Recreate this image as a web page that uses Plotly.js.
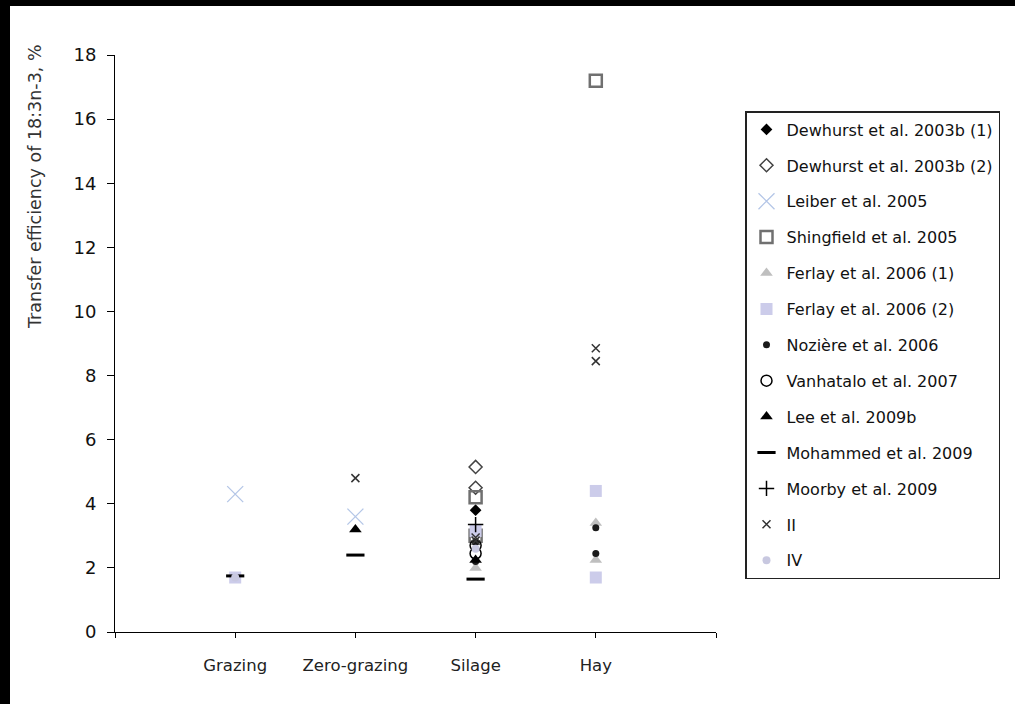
<!DOCTYPE html>
<html>
<head>
<meta charset="utf-8">
<script src="https://cdn.plot.ly/plotly-3.0.1.min.js"></script>
<style>
  html, body { margin: 0; padding: 0; background: #fff; }
  #wrap { position: relative; width: 1015px; height: 704px; overflow: hidden; }
  #chart { position: absolute; left: 0; top: 0; width: 1015px; height: 704px; }
  .barL { position: absolute; left: 0; top: 0; width: 10px; height: 704px; background: #000; }
  .barT { position: absolute; left: 0; top: 0; width: 1015px; height: 6px; background: #000; }
</style>
</head>
<body>
<div id="wrap">
  <div id="chart"></div>
  <div class="barL"></div>
  <div class="barT"></div>
</div>
<script>
// Categories on the x axis
const categories = ['Grazing', 'Zero-grazing', 'Silage', 'Hay'];

// Series: category of each point and transfer efficiency (%)
const dewhurst1Cat = ['Silage'];
const dewhurst1Val = [3.8];
const dewhurst2Cat = ['Silage', 'Silage'];
const dewhurst2Val = [5.15, 4.5];
const leiberCat = ['Grazing', 'Zero-grazing'];
const leiberVal = [4.3, 3.6];
const shingfieldCat = ['Silage', 'Silage', 'Hay'];
const shingfieldVal = [4.2, 3.0, 17.2];
const ferlay1Cat = ['Silage', 'Hay', 'Hay'];
const ferlay1Val = [2.0, 3.4, 2.25];
const ferlay2Cat = ['Grazing', 'Silage', 'Hay', 'Hay'];
const ferlay2Val = [1.7, 3.15, 4.4, 1.7];
const noziereCat = ['Silage', 'Silage', 'Hay', 'Hay'];
const noziereVal = [2.2, 2.8, 3.25, 2.45];
const vanhataloCat = ['Silage', 'Silage'];
const vanhataloVal = [2.7, 2.45];
const leeCat = ['Zero-grazing', 'Silage'];
const leeVal = [3.2, 2.25];
const mohammedCat = ['Grazing', 'Zero-grazing', 'Silage'];
const mohammedVal = [1.75, 2.4, 1.65];
const moorbyCat = ['Silage'];
const moorbyVal = [3.35];
const iiCat = ['Zero-grazing', 'Silage', 'Silage', 'Hay', 'Hay'];
const iiVal = [4.8, 2.85, 2.95, 8.85, 8.45];
const ivCat = ['Grazing', 'Silage'];
const ivVal = [1.7, 2.6];

const seriesNames = ['Dewhurst et al. 2003b (1)', 'Dewhurst et al. 2003b (2)', 'Leiber et al. 2005',
  'Shingfield et al. 2005', 'Ferlay et al. 2006 (1)', 'Ferlay et al. 2006 (2)', 'Nozière et al. 2006',
  'Vanhatalo et al. 2007', 'Lee et al. 2009b', 'Mohammed et al. 2009', 'Moorby et al. 2009', 'II', 'IV'];

const yTicks = [0, 2, 4, 6, 8, 10, 12, 14, 16, 18];

const pos = c => categories.indexOf(c) + 1;

const styles = [
  {symbol: 'diamond', size: 9, color: '#000000'},
  {symbol: 'diamond-open', size: 10, color: '#444444', line: {width: 1.5}},
  {symbol: 'x-thin-open', size: 16, color: '#b4c6e7', line: {width: 1.3}},
  {symbol: 'square-open', size: 12, color: '#707070', line: {width: 2.5}},
  {symbol: 'triangle-up', size: 11, color: '#bfbfbf'},
  {symbol: 'square', size: 12, color: '#ccccea'},
  {symbol: 'circle', size: 7, color: '#1a1a1a'},
  {symbol: 'circle-open', size: 11, color: '#000000', line: {width: 1.5}},
  {symbol: 'triangle-up', size: 11, color: '#000000'},
  {symbol: 'line-ew-open', size: 13, color: '#000000', line: {width: 3}},
  {symbol: 'cross-thin-open', size: 11, color: '#000000', line: {width: 1.5}},
  {symbol: 'x-thin-open', size: 8, color: '#333333', line: {width: 1.5}},
  {symbol: 'circle', size: 8, color: '#c8c8e0'}
];

const cats = [dewhurst1Cat, dewhurst2Cat, leiberCat, shingfieldCat, ferlay1Cat, ferlay2Cat, noziereCat,
  vanhataloCat, leeCat, mohammedCat, moorbyCat, iiCat, ivCat];
const vals = [dewhurst1Val, dewhurst2Val, leiberVal, shingfieldVal, ferlay1Val, ferlay2Val, noziereVal,
  vanhataloVal, leeVal, mohammedVal, moorbyVal, iiVal, ivVal];

const traces = seriesNames.map((name, i) => ({
  type: 'scatter',
  mode: 'markers',
  name: name,
  legendgroup: 'g' + i,
  x: cats[i].map(pos),
  y: vals[i],
  marker: styles[i],
  hoverinfo: 'name+y'
}));

const L = 115, R = 716, T = 55, B = 632;
const pw = R - L, ph = B - T;

const layout = {
  width: 1015,
  height: 704,
  margin: {l: L, r: 1015 - R, t: T, b: 704 - B},
  paper_bgcolor: '#ffffff',
  plot_bgcolor: '#ffffff',
  showlegend: true,
  xaxis: {
    range: [0, 5],
    tickvals: [0, 1, 2, 3, 4, 5],
    ticktext: ['', categories[0], categories[1], categories[2], categories[3], ''],
    showgrid: false,
    zeroline: false,
    showline: true,
    linecolor: '#000',
    linewidth: 1,
    ticks: 'outside',
    ticklen: 5,
    tickcolor: '#000',
    tickfont: {family: 'DejaVu Sans', size: 16.5, color: '#222'},
    ticklabelstandoff: 13
  },
  yaxis: {
    range: [0, 18],
    tickvals: yTicks,
    showgrid: false,
    zeroline: false,
    showline: true,
    linecolor: '#000',
    linewidth: 1,
    ticks: 'outside',
    ticklen: 7,
    tickcolor: '#000',
    tickfont: {family: 'DejaVu Sans', size: 18, color: '#111'},
    ticklabelstandoff: 7
  },
  legend: {
    x: (745 - L) / pw,
    y: (B - 111) / ph,
    xanchor: 'left',
    yanchor: 'top',
    bgcolor: '#ffffff',
    bordercolor: '#222',
    borderwidth: 1.5,
    font: {family: 'DejaVu Sans', size: 16, color: '#111'},
    tracegroupgap: 12.1,
    traceorder: 'grouped'
  },
  annotations: [{
    text: 'Transfer efficiency of 18:3n-3, %',
    xref: 'paper', yref: 'paper',
    x: (35 - L) / pw,
    y: (B - 187) / ph,
    xanchor: 'center', yanchor: 'middle',
    textangle: -90,
    showarrow: false,
    font: {family: 'DejaVu Sans', size: 17.5, color: '#333'}
  }]
};

Plotly.newPlot('chart', traces, layout, {displayModeBar: false, staticPlot: true});
</script>
</body>
</html>
